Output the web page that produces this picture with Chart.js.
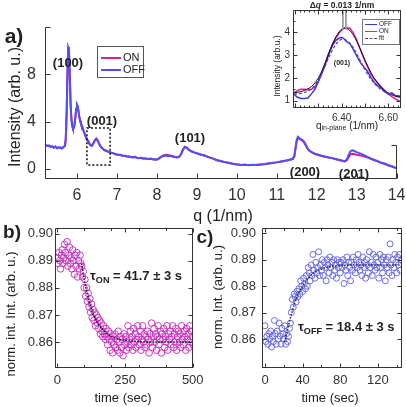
<!DOCTYPE html>
<html lang="en">
<head>
<meta charset="utf-8" />
<title>Photo-switching of the (001) reflection</title>
<script src="https://cdn.jsdelivr.net/npm/chart.js@4.4.1/dist/chart.umd.min.js"></script>
<style>
  html, body { margin: 0; padding: 0; background: #fff; }
  body { width: 406px; height: 407px; position: relative; overflow: hidden;
         font-family: 'Liberation Sans', Arial, sans-serif; color: #222; }
  canvas { position: absolute; }
  .t { position: absolute; white-space: nowrap; line-height: 1; transform: translate(-50%, -50%); }
  .r { transform: translate(-50%, -50%) rotate(-90deg); }
  .l { transform: translate(0, -50%); }
  .b { font-weight: bold; }
  .leg { position: absolute; border: 1px solid #555; background: #fff; }
  .leg div { position: absolute; white-space: nowrap; line-height: 1; }
  .seg { position: absolute; height: 0; }
  sub { font-size: 70%; vertical-align: -0.25em; }
</style>
</head>
<body>
<canvas id="chartA" width="420" height="200" style="left:0;top:0"></canvas>
<canvas id="chartIn" width="140" height="140" style="left:270px;top:0"></canvas>
<canvas id="chartB" width="210" height="202" style="left:0;top:205px"></canvas>
<canvas id="chartC" width="205" height="202" style="left:205px;top:205px"></canvas>

<!-- panel a texts -->
<div class="t b" style="left:14px;top:35px;font-size:21px">a)</div>
<div class="t r" style="left:15px;top:107px;font-size:16px">Intensity (arb. u.)</div>
<div class="t" style="left:223px;top:216px;font-size:16px">q (1/nm)</div>
<div class="t b" style="left:68px;top:62px;font-size:13px">(100)</div>
<div class="t b" style="left:102px;top:120px;font-size:13px">(001)</div>
<div class="t b" style="left:190px;top:137px;font-size:13px">(101)</div>
<div class="t b" style="left:305px;top:171px;font-size:13px">(200)</div>
<div class="t b" style="left:354px;top:173px;font-size:13px">(201)</div>

<div class="leg" style="left:97px;top:46px;width:45px;height:30px">
  <span class="seg" style="left:3px;top:10px;width:20px;border-top:2px solid #de1e8c"></span>
  <div style="left:25px;top:5px;font-size:11px">ON</div>
  <span class="seg" style="left:3px;top:22px;width:20px;border-top:2px solid #5050f5"></span>
  <div style="left:25px;top:17px;font-size:11px">OFF</div>
</div>

<!-- inset texts -->
<div class="t b" style="left:342px;top:5px;font-size:8.5px">&Delta;<i>q</i> = 0.013 1/nm</div>
<div class="t r" style="left:277px;top:66px;font-size:8.5px">Intensity (arb.u.)</div>
<div class="t" style="left:347px;top:126px;font-size:10px">q<sub>in-plane</sub> (1/nm)</div>
<div class="t b" style="left:342px;top:62px;font-size:7px">(001)</div>
<div class="leg" style="left:362px;top:19px;width:36px;height:24px;border-color:#777">
  <span class="seg" style="left:2px;top:4px;width:12px;border-top:1.5px solid #3838e8"></span>
  <div style="left:16px;top:1px;font-size:6.5px">OFF</div>
  <span class="seg" style="left:2px;top:11px;width:12px;border-top:1.5px solid #e020a0"></span>
  <div style="left:16px;top:8px;font-size:6.5px">ON</div>
  <span class="seg" style="left:2px;top:18px;width:12px;border-top:1.5px dashed #5a3c9a"></span>
  <div style="left:16px;top:15px;font-size:6.5px">fit</div>
</div>

<!-- panel b texts -->
<div class="t b" style="left:12px;top:231px;font-size:19px">b)</div>
<div class="t r" style="left:10px;top:314px;font-size:13px">norm. int. Int. (arb. u.)</div>
<div class="t" style="left:123px;top:397px;font-size:13px">time (sec)</div>
<div class="t l b" style="left:90px;top:277px;font-size:13px">&tau;<sub>ON</sub> = 41.7 &plusmn; 3 s</div>

<!-- panel c texts -->
<div class="t b" style="left:205px;top:236px;font-size:19px">c)</div>
<div class="t r" style="left:217px;top:297px;font-size:13px">norm. Int. (arb. u.)</div>
<div class="t" style="left:330px;top:397px;font-size:13px">time (sec)</div>
<div class="t l b" style="left:298px;top:328px;font-size:13px">&tau;<sub>OFF</sub> = 18.4 &plusmn; 3 s</div>

<script>
// ---------- panel a : in-plane line cuts ----------
const qA = [
  5.22,5.26,5.30,5.34,5.38,5.42,5.46,5.50,5.54,5.58,5.62,5.66,5.70,
  5.72,5.74,5.76,5.78,5.80,5.82,5.84,5.86,5.88,5.90,5.92,5.94,5.96,5.98,6.00,6.02,6.04,6.06,6.08,6.10,
  6.13,6.16,6.19,6.22,6.25,6.28,6.31,6.34,6.37,6.40,6.43,6.46,6.49,6.52,6.55,6.58,6.61,6.64,6.67,6.70,
  6.75,6.80,6.85,6.90,6.95,7.00,7.05,7.10,7.15,7.20,7.25,7.30,7.35,7.40,7.45,7.50,7.55,7.60,7.65,7.70,7.75,7.80,7.85,7.90,7.95,8.00,
  8.05,8.10,8.15,8.20,8.25,8.30,8.35,8.40,8.45,8.50,8.55,8.60,8.65,8.70,8.75,8.80,8.85,8.90,8.95,9.00,
  9.1,9.2,9.3,9.4,9.5,9.6,9.7,9.8,9.9,10.0,10.1,10.2,10.3,10.4,10.5,10.6,10.7,10.8,10.9,11.0,11.1,11.2,11.3,11.4,
  11.44,11.47,11.50,11.53,11.56,11.59,11.62,11.65,11.68,11.71,11.74,11.77,11.80,11.85,11.90,11.95,12.00,
  12.1,12.2,12.3,12.4,12.5,12.6,12.7,
  12.75,12.80,12.85,12.90,12.95,13.00,13.05,13.10,13.15,13.20,
  13.3,13.4,13.5,13.6,13.7,13.8,13.9,14.0
];
const onA = [
  2.00,1.97,1.95,1.90,1.91,1.83,1.88,1.78,1.82,1.83,1.76,1.84,1.95,
  2.5,4.4,7.6,10.1,10.0,7.9,5.5,4.2,3.6,3.4,3.45,3.75,4.35,5.0,5.35,5.25,4.8,4.35,4.05,3.8,
  3.55,3.28,2.98,2.72,2.50,2.35,2.12,2.02,1.98,2.12,2.32,2.50,2.58,2.42,2.20,1.98,1.83,1.74,1.64,1.56,
  1.50,1.44,1.40,1.32,1.28,1.20,1.20,1.16,1.12,1.10,1.06,1.04,1.02,1.00,1.00,0.96,0.94,0.93,0.90,0.88,0.87,0.85,0.86,0.82,0.81,0.80,
  0.90,1.02,1.12,1.18,1.20,1.16,1.13,1.08,1.03,0.99,1.02,1.22,1.62,1.88,1.80,1.64,1.52,1.44,1.38,1.32,
  1.20,1.12,1.00,0.88,0.76,0.66,0.58,0.50,0.44,0.39,0.36,0.34,0.33,0.34,0.35,0.37,0.41,0.46,0.50,0.56,0.62,0.68,0.75,0.84,
  1.05,1.70,2.35,2.60,2.55,2.50,2.44,2.36,2.26,2.10,1.92,1.74,1.58,1.46,1.36,1.28,1.22,
  1.12,1.04,0.97,0.90,0.80,0.72,0.64,
  0.72,1.00,1.25,1.28,1.24,1.20,1.18,1.15,1.10,1.05,
  0.94,0.80,0.66,0.54,0.42,0.30,0.18,0.05
];
const offA = [
  2.02,1.95,1.99,1.86,1.93,1.79,1.90,1.74,1.84,1.80,1.72,1.86,1.98,
  2.6,4.6,7.8,10.3,10.1,8.0,5.6,4.3,3.7,3.45,3.5,3.8,4.4,5.1,5.45,5.3,4.85,4.4,4.1,3.85,
  3.60,3.30,3.00,2.75,2.50,2.40,2.15,2.00,1.95,2.10,2.30,2.45,2.50,2.38,2.15,1.95,1.85,1.72,1.62,1.60,
  1.52,1.45,1.38,1.36,1.26,1.22,1.18,1.21,1.10,1.14,1.05,1.08,1.02,0.98,1.04,0.95,0.92,0.97,0.88,0.91,0.86,0.84,0.89,0.80,0.83,0.78,
  0.88,1.00,1.08,1.14,1.12,1.08,1.11,1.04,1.02,0.97,1.00,1.20,1.62,1.85,1.78,1.62,1.52,1.45,1.38,1.33,
  1.22,1.15,0.98,0.90,0.74,0.68,0.58,0.52,0.44,0.40,0.34,0.37,0.31,0.35,0.33,0.38,0.42,0.47,0.52,0.56,0.63,0.70,0.76,0.86,
  1.10,1.80,2.45,2.72,2.62,2.55,2.50,2.42,2.32,2.15,1.95,1.75,1.60,1.48,1.38,1.30,1.24,
  1.14,1.06,0.98,0.92,0.82,0.74,0.66,
  0.78,1.20,1.52,1.58,1.50,1.42,1.36,1.30,1.22,1.14,
  0.97,0.82,0.71,0.55,0.46,0.31,0.21,0.07
];
const xTicksA = [6, 7, 8, 9, 10, 11, 12, 13, 14];
const yTicksA = [0, 4, 8];
const boxQ = [6.25, 6.83];     // dotted zoom box around (001)
const boxI = [0.34, 3.47];

// ---------- inset : (001) peak ----------
const qIn = [6.195,6.21,6.225,6.24,6.255,6.27,6.285,6.30,6.315,6.33,6.345,6.36,6.375,6.39,6.40,6.41,6.42,
             6.435,6.45,6.465,6.48,6.495,6.51,6.525,6.54,6.555,6.57,6.585,6.60,6.615,6.63,6.645,6.654];
const offIn = [1.29,1.15,1.10,1.10,1.12,1.30,1.50,1.85,2.25,2.65,3.10,3.42,3.65,3.75,3.78,3.72,3.60,
               3.50,3.25,2.95,2.68,2.48,2.30,2.02,1.80,1.65,1.55,1.40,1.30,1.35,1.22,1.20,1.20];
const onIn = [1.33,1.45,1.50,1.50,1.48,1.50,1.60,1.85,2.20,2.60,3.05,3.45,3.75,3.98,4.10,4.17,4.20,
              4.18,3.98,3.65,3.25,2.85,2.50,2.18,1.95,1.78,1.60,1.45,1.30,1.18,1.08,1.00,0.96];
const fitOffIn = [1.30,1.30,1.32,1.36,1.42,1.52,1.68,1.90,2.20,2.55,2.90,3.22,3.48,3.64,3.70,3.70,3.65,
                  3.52,3.32,3.05,2.75,2.45,2.18,1.95,1.76,1.60,1.48,1.39,1.32,1.27,1.24,1.22,1.21];
const fitOnIn = [1.35,1.37,1.40,1.45,1.52,1.62,1.78,2.00,2.30,2.68,3.08,3.48,3.80,4.04,4.14,4.19,4.18,
                 4.08,3.88,3.60,3.26,2.90,2.56,2.25,1.98,1.76,1.58,1.44,1.34,1.26,1.20,1.16,1.14];
const dqLines = [6.405, 6.418];
const dqSpan = [5.0, 4.12];
const xTicksIn = [6.40, 6.60];
const yTicksIn = [1, 2, 3, 4];

// ---------- panel b : ON kinetics ----------
const timeB = [
  0,3,6,9,12,15,18,21,24,27, 30,33,36,39,42,45,48,51,54,57, 60,63,66,69,72,75,78,81,84,87,
  90,93,96,99,102,105,108,111,114,117, 120,123,126,129,132,135,138,141,144,147,
  150,153,156,159,162,165,168,171,174,177, 180,183,186,189,192,195,198,201,204,207,
  210,213,216,219,222,225,228,231,234,237, 240,243,246,249,252,255,258,261,264,267,
  270,273,276,279,282,285,288,291,294,297, 300,303,306,309,312,315,318,321,324,327,
  330,333,336,339,342,345,348,351,354,357, 360,363,366,369,372,375,378,381,384,387,
  390,393,396,399,402,405,408,411,414,417, 420,423,426,429,432,435,438,441,444,447,
  450,453,456,459,462,465,468,471,474,477, 480,483,486,489,492,495,498,501
];
const onB = [
  .891,.889,.893,.890,.887,.892,.894,.889,.891,.896, .893,.890,.897,.888,.892,.895,.889,.891,.887,.894,
  .890,.885,.892,.888,.893,.884,.890,.887,.892,.889,
  .888,.884,.886,.880,.883,.877,.880,.875,.878,.873, .876,.871,.874,.869,.872,.868,.871,.866,.870,.867,
  .869,.865,.868,.863,.867,.864,.862,.866,.863,.861, .865,.862,.859,.864,.861,.857,.863,.860,.856,.862,
  .859,.863,.858,.861,.857,.864,.860,.856,.862,.858, .861,.855,.863,.859,.862,.857,.860,.866,.858,.861,
  .864,.859,.862,.857,.865,.860,.863,.858,.861,.866, .862,.859,.864,.857,.861,.866,.860,.863,.858,.862,
  .859,.864,.861,.856,.863,.860,.867,.858,.862,.865, .860,.863,.857,.862,.866,.859,.861,.864,.856,.863,
  .861,.865,.858,.862,.860,.866,.857,.863,.861,.864, .859,.862,.866,.858,.863,.860,.865,.857,.862,.864,
  .860,.863,.858,.866,.861,.859,.864,.862,.857,.865, .861,.863,.858,.866,.860,.864,.862,.859
];
const fitTimeB = [90, 95, 100, 105, 110, 115, 120, 130, 140, 150, 165, 180, 200, 225, 250, 300, 400, 501];
const fitB = [.889,.8858,.8828,.8802,.8779,.8758,.8741,.8710,.8688,.8669,.8649,.8634,.8621,.8611,.8606,.8602,.8600,.8600];
const xTicksB = [0, 250, 500];
const yTicksBC = [0.86, 0.87, 0.88, 0.89, 0.90];

// ---------- panel c : OFF kinetics ----------
const timeC = [
  0,1,2,3,4,5,6,7,8,9, 10,11,12,13,14,15,16,17,18,19, 20,21,22,23,24,25,26,27,28,29,
  30,31,32,33,34,35,36,37,38,39, 40,41,42,43,44,45,46,47,48,49, 50,51,52,53,54,55,56,57,58,59,
  60,61,62,63,64,65,66,67,68,69, 70,71,72,73,74,75,76,77,78,79, 80,81,82,83,84,85,86,87,88,89,
  90,91,92,93,94,95,96,97,98,99, 100,101,102,103,104,105,106,107,108,109, 110,111,112,113,114,115,116,117,118,119,
  120,121,122,123,124,125,126,127,128,129, 130,131,132,133,134,135,136,137,138,139, 140,141,142,143,144,145
];
const offC = [
  .865,.859,.861,.858,.862,.860,.863,.857,.861,.859, .867,.862,.858,.863,.860,.866,.861,.858,.864,.862,
  .860,.865,.858,.862,.859,.861,.864,.866,.870,.875, .872,.877,.876,.874,.878,.876,.879,.877,.882,.880,
  .878,.883,.881,.879,.884,.880,.887,.885,.882,.888, .884,.892,.886,.883,.889,.885,.887,.893,.884,.888,
  .886,.890,.884,.889,.887,.882,.890,.888,.885,.891, .887,.889,.884,.890,.886,.888,.883,.890,.887,.889,
  .885,.889,.887,.890,.881,.888,.886,.891,.884,.889, .887,.882,.889,.886,.891,.888,.885,.890,.887,.892,
  .889,.886,.888,.884,.891,.887,.889,.883,.890,.888, .885,.893,.887,.889,.884,.892,.888,.886,.891,.887,
  .889,.883,.892,.887,.890,.885,.891,.888,.882,.890, .887,.891,.885,.896,.888,.884,.890,.887,.892,.889,
  .885,.891,.888,.892,.886,.890
];
const fitTimeC = [20.5, 23, 26, 29, 32, 36, 40, 45, 50, 60, 70, 80, 100, 146];
const fitC = [.8589,.8620,.8665,.8705,.8740,.8775,.8800,.8825,.8845,.8865,.8874,.8878,.8880,.8880];
const xTicksC = [0, 40, 80, 120];

// colours
const colOn = '#de1e8c', colOff = '#5050f5';

Chart.defaults.font.family = "'Liberation Sans', Arial, sans-serif";
Chart.defaults.color = '#333';

// inward tick marks + frame, drawn after the data
const frameTicks = {
  id: 'frameTicks',
  afterDatasetsDraw(chart, args, o) {
    const { ctx, chartArea: a, scales: { x, y } } = chart;
    const L = Math.round(a.left) + 0.5, R = Math.round(a.right) - 0.5;
    const T = Math.round(a.top) + 0.5, B = Math.round(a.bottom) - 0.5;
    ctx.save();
    ctx.strokeStyle = o.color || '#333';
    ctx.lineWidth = 1;
    ctx.beginPath();
    const s = o.sides || '';
    if (s.includes('l')) { ctx.moveTo(L, T); ctx.lineTo(L, B + 0.5); }
    if (s.includes('b')) { ctx.moveTo(L, B); ctx.lineTo(R + 0.5, B); }
    if (s.includes('r')) { ctx.moveTo(R, T); ctx.lineTo(R, B + 0.5); }
    if (s.includes('t')) { ctx.moveTo(L, T); ctx.lineTo(R + 0.5, T); }
    if (o.rightFrom !== undefined) {
      const p = Math.round(y.getPixelForValue(o.rightFrom)) + 0.5;
      ctx.moveTo(R, p); ctx.lineTo(R, B); ctx.moveTo(R, p); ctx.lineTo(R - 5, p);
    }
    for (const t of o.x || []) {
      for (const v of t.v) {
        const p = Math.round(x.getPixelForValue(v)) + 0.5;
        if (t.side.includes('b')) { ctx.moveTo(p, B); ctx.lineTo(p, B - t.len); }
        if (t.side.includes('t')) { ctx.moveTo(p, T); ctx.lineTo(p, T + t.len); }
      }
    }
    for (const t of o.y || []) {
      for (const v of t.v) {
        const p = Math.round(y.getPixelForValue(v)) + 0.5;
        if (t.side.includes('l')) { ctx.moveTo(L, p); ctx.lineTo(L + t.len, p); }
        if (t.side.includes('r')) { ctx.moveTo(R, p); ctx.lineTo(R - t.len, p); }
      }
    }
    ctx.stroke();
    if (o.box) {
      ctx.setLineDash([2, 2]);
      ctx.lineWidth = 1.5;
      ctx.strokeStyle = '#111';
      const x0 = x.getPixelForValue(o.box.q[0]), x1 = x.getPixelForValue(o.box.q[1]);
      const y0 = y.getPixelForValue(o.box.i[0]), y1 = y.getPixelForValue(o.box.i[1]);
      ctx.strokeRect(x0, y1, x1 - x0, y0 - y1);
    }
    ctx.restore();
  }
};

function pts(xs, ys) { return xs.map((v, i) => ({ x: v, y: ys[i] })); }

function axis(min, max, ticks, pad, size, fmt, isX, fontSize) {
  return {
    type: 'linear', min: min, max: max,
    grid: { display: false, drawTicks: false }, border: { display: false },
    afterBuildTicks: s => { s.ticks = ticks.map(v => ({ value: v })); },
    afterFit: s => { if (isX) s.height = size; else s.width = size; },
    ticks: { padding: pad, font: { size: fontSize }, color: '#333',
             callback: v => fmt ? v.toFixed(fmt) : String(v) }
  };
}

const common = { responsive: false, animation: false, devicePixelRatio: 1, events: [] };

// panel a
new Chart(document.getElementById('chartA'), {
  type: 'line',
  data: { datasets: [
    { label: 'ON', data: pts(qA, onA), borderColor: colOn, borderWidth: 2, pointRadius: 0, order: 1 },
    { label: 'OFF', data: pts(qA, offA), borderColor: colOff, borderWidth: 2, pointRadius: 0, order: 0 }
  ]},
  options: Object.assign({}, common, {
    layout: { padding: { top: 27, right: 23, left: 0, bottom: 0 } },
    plugins: { legend: { display: false }, tooltip: { enabled: false },
      frameTicks: { sides: 'lb', rightFrom: 2,
        x: [{ v: xTicksA, len: 5, side: 'b' }],
        y: [{ v: [0, 4, 8, 12], len: 5, side: 'l' }],
        box: { q: boxQ, i: boxI } } },
    scales: {
      x: axis(5.2, 14.01, xTicksA, 7, 21, 0, true, 16),
      y: axis(-0.845, 12, yTicksA, 9, 45, 0, false, 16)
    }
  }),
  plugins: [frameTicks]
});

// inset
new Chart(document.getElementById('chartIn'), {
  type: 'line',
  data: { datasets: [
    { data: pts([dqLines[0], dqLines[0]], dqSpan), borderColor: '#999', borderWidth: 1, pointRadius: 0, clip: false },
    { data: pts([dqLines[1], dqLines[1]], dqSpan), borderColor: '#999', borderWidth: 1, pointRadius: 0, clip: false },
    { label: 'fit', data: pts(qIn, fitOffIn), borderColor: '#5a3c9a', borderWidth: 1.2, borderDash: [3, 2], pointRadius: 0 },
    { data: pts(qIn, fitOnIn), borderColor: '#111', borderWidth: 1, pointRadius: 0, tension: 0.3 },
    { label: 'OFF', data: pts(qIn, offIn), borderColor: '#3838e8', borderWidth: 1.5, pointRadius: 0 },
    { label: 'ON', data: pts(qIn, onIn), borderColor: '#e020a0', borderWidth: 1.5, pointRadius: 0 }
  ]},
  options: Object.assign({}, common, {
    layout: { padding: { top: 10, right: 9, left: 0, bottom: 0 } },
    plugins: { legend: { display: false }, tooltip: { enabled: false },
      frameTicks: { sides: 'lbrt',
        x: [{ v: [6.2, 6.3, 6.4, 6.5, 6.6], len: 4, side: 'bt' },
            { v: [6.22, 6.24, 6.26, 6.28, 6.32, 6.34, 6.36, 6.38, 6.42, 6.44, 6.46, 6.48, 6.52, 6.54, 6.56, 6.58, 6.62, 6.64], len: 2, side: 'bt' }],
        y: [{ v: yTicksIn, len: 4, side: 'lr' }, { v: [1.5, 2.5, 3.5, 4.5], len: 2, side: 'lr' }] } },
    scales: {
      x: axis(6.191, 6.6545, xTicksIn, 4, 32, 2, true, 10),
      y: axis(0.68, 4.98, yTicksIn, 3, 23, 0, false, 10)
    }
  }),
  plugins: [frameTicks]
});

// panel b
new Chart(document.getElementById('chartB'), {
  type: 'scatter',
  data: { datasets: [
    { data: pts(fitTimeB, fitB), showLine: true, borderColor: '#1a1a3a', borderWidth: 1.6, borderDash: [1.5, 1.5],
      pointRadius: 0, cubicInterpolationMode: 'monotone' },
    { data: pts(timeB, onB), pointRadius: 3.3, pointBorderWidth: 1, borderColor: 'rgba(200,40,190,0.9)',
      backgroundColor: 'rgba(0,0,0,0)', pointBackgroundColor: 'rgba(0,0,0,0)' }
  ]},
  options: Object.assign({}, common, {
    layout: { padding: { top: 23, right: 17, left: 0, bottom: 0 } },
    plugins: { legend: { display: false }, tooltip: { enabled: false },
      frameTicks: { sides: 'lbrt',
        x: [{ v: xTicksB, len: 4, side: 'bt' }, { v: [100, 200, 300, 400], len: 2.5, side: 'bt' }],
        y: [{ v: yTicksBC, len: 4, side: 'lr' }] } },
    scales: {
      x: axis(-8.5, 501, xTicksB, 5, 39, 0, true, 13),
      y: axis(0.85044, 0.90206, yTicksBC, 2, 55, 2, false, 13)
    }
  }),
  plugins: [frameTicks]
});

// panel c
new Chart(document.getElementById('chartC'), {
  type: 'scatter',
  data: { datasets: [
    { data: pts(fitTimeC, fitC), showLine: true, borderColor: '#333', borderWidth: 1.6, borderDash: [1.5, 1.5],
      pointRadius: 0, cubicInterpolationMode: 'monotone' },
    { data: pts(timeC, offC), pointRadius: 3, pointBorderWidth: 1, borderColor: 'rgba(100,100,235,0.95)',
      backgroundColor: 'rgba(0,0,0,0)', pointBackgroundColor: 'rgba(0,0,0,0)' }
  ]},
  options: Object.assign({}, common, {
    layout: { padding: { top: 23, right: 8, left: 0, bottom: 0 } },
    plugins: { legend: { display: false }, tooltip: { enabled: false },
      frameTicks: { sides: 'lbrt',
        x: [{ v: xTicksC, len: 4, side: 'bt' }, { v: [20, 60, 100, 140], len: 2.5, side: 'bt' }],
        y: [{ v: yTicksBC, len: 4, side: 'lr' }] } },
    scales: {
      x: axis(-3.2, 145.7, xTicksC, 5, 39, 0, true, 13),
      y: axis(0.849, 0.902, yTicksBC, 6, 57, 2, false, 13)
    }
  }),
  plugins: [frameTicks]
});
</script>
</body>
</html>
